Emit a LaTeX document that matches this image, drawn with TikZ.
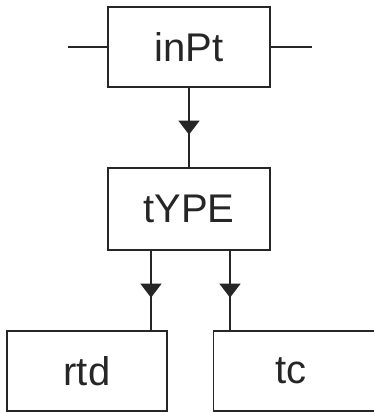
\documentclass[tikz,border=0pt]{standalone}
\usepackage{fontspec}
\setmainfont{Liberation Sans}
\usetikzlibrary{arrows.meta,decorations.markings}
\begin{document}
\begin{tikzpicture}[x=1pt,y=1pt,
  box/.style={draw=black!85,line width=1.3pt,minimum width=162pt,minimum height=80pt,inner sep=0pt,font=\fontsize{40}{40}\selectfont,text=black!85},
  lbl/.style={inner sep=0pt,font=\fontsize{40}{40}\selectfont,text=black!85},
  wire/.style={draw=black!85,line width=1.3pt},
  arr/.style={wire,postaction={decorate},decoration={markings,mark=at position 0.59 with {\arrow{Triangle[width=21pt,length=14pt]}}}}]
\useasboundingbox (0,0) rectangle (373,412);
\node[box] (inPt) at (189,365) {inPt};
\node[box,minimum height=82pt] (tYPE) at (189,203) {tYPE};
\node[box,minimum width=160pt] (rtd) at (87,41) {rtd};
\node[box,minimum width=177pt,anchor=west] (tc) at (213,41) {};
\node[lbl] (tctext) at (291,41) {tc};
\coordinate (lend) at (68,365);
\coordinate (rend) at (312,365);
\coordinate (xa) at (151,0);
\coordinate (xb) at (230,0);
\draw[wire] (lend) -- (inPt.west);
\draw[wire] (inPt.east) -- (rend);
\draw[arr] (inPt.south) -- (tYPE.north);
\draw[arr] (xa |- tYPE.south) -- (xa |- rtd.north);
\draw[arr] (xb |- tYPE.south) -- (xb |- tc.north);
\end{tikzpicture}
\end{document}
